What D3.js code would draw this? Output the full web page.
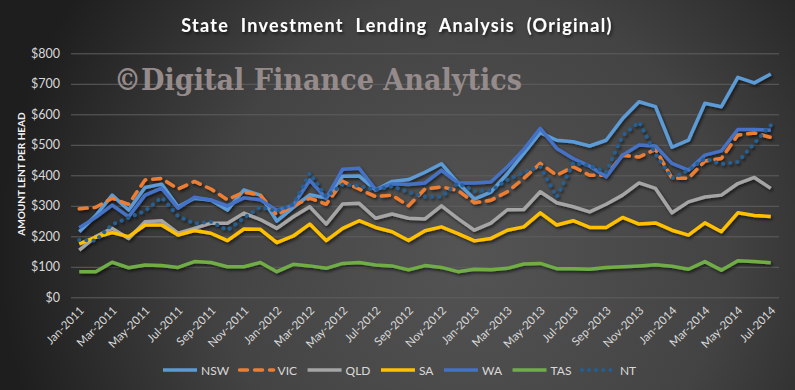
<!DOCTYPE html>
<html>
<head>
<meta charset="utf-8">
<script src="https://cdn.jsdelivr.net/npm/d3@7"></script>
<style>
  body { margin: 0; background: #2b2b2b; }
  svg { display: block; }
  text { font-family: Lato, 'Open Sans', sans-serif; }
</style>
</head>
<body>
<svg id="chart" width="795" height="390"></svg>
<script>
const months = ['Jan-2011','Feb-2011','Mar-2011','Apr-2011','May-2011','Jun-2011','Jul-2011','Aug-2011','Sep-2011','Oct-2011','Nov-2011','Dec-2011',
  'Jan-2012','Feb-2012','Mar-2012','Apr-2012','May-2012','Jun-2012','Jul-2012','Aug-2012','Sep-2012','Oct-2012','Nov-2012','Dec-2012',
  'Jan-2013','Feb-2013','Mar-2013','Apr-2013','May-2013','Jun-2013','Jul-2013','Aug-2013','Sep-2013','Oct-2013','Nov-2013','Dec-2013',
  'Jan-2014','Feb-2014','Mar-2014','Apr-2014','May-2014','Jun-2014','Jul-2014'];
const yTicks = [0, 100, 200, 300, 400, 500, 600, 700, 800];

const nsw = [215, 268, 335, 286, 360, 371, 297, 325, 319, 286, 352, 335, 250, 295, 336, 326, 397, 398, 352, 380, 386, 410,
  438, 375, 322, 345, 405, 472, 540, 515, 510, 496, 515, 586, 641, 625, 492, 515, 636, 625, 721, 703, 732];
const vic = [290, 295, 325, 305, 385, 390, 355, 380, 355, 320, 345, 335, 270, 300, 325, 305, 380, 355, 330, 335, 300, 355,
  362, 350, 310, 318, 346, 390, 439, 400, 428, 400, 400, 466, 460, 485, 390, 390, 447, 455, 532, 539, 524];
const qld = [155, 199, 226, 193, 248, 251, 210, 226, 243, 243, 276, 255, 226, 264, 297, 240, 306, 308, 259, 273, 259, 257,
  300, 258, 220, 243, 287, 288, 346, 310, 297, 280, 305, 335, 375, 357, 277, 313, 329, 335, 373, 393, 357];
const sa = [175, 197, 212, 199, 237, 237, 204, 219, 210, 186, 224, 223, 179, 201, 240, 186, 226, 251, 229, 215, 186, 218,
  231, 209, 185, 193, 220, 231, 277, 237, 251, 229, 229, 262, 240, 244, 220, 204, 244, 215, 277, 268, 265];
const wa = [228, 262, 302, 264, 335, 358, 292, 328, 319, 300, 326, 320, 285, 302, 384, 324, 420, 423, 353, 372, 370, 375,
  416, 375, 375, 378, 428, 485, 554, 488, 455, 430, 395, 466, 499, 496, 439, 417, 466, 480, 550, 550, 548];
const tas = [84, 84, 115, 97, 106, 104, 98, 117, 114, 100, 100, 114, 84, 108, 103, 95, 111, 114, 106, 103, 90, 104,
  98, 84, 92, 90, 95, 109, 111, 94, 94, 92, 98, 100, 103, 107, 102, 92, 117, 89, 120, 117, 113];
const nt = [188, 186, 239, 261, 283, 328, 266, 242, 248, 220, 260, 296, 282, 306, 407, 330, 370, 365, 352, 364, 345, 330,
  330, 374, 348, 350, 385, 411, 428, 329, 440, 432, 410, 530, 575, 470, 390, 417, 455, 437, 444, 505, 564];

const series = [
  {name: 'NSW', values: nsw, color: '#5B9BD5', dash: null},
  {name: 'VIC', values: vic, color: '#ED7D31', dash: '8,7'},
  {name: 'QLD', values: qld, color: '#A5A5A5', dash: null},
  {name: 'SA', values: sa, color: '#FFC000', dash: null},
  {name: 'WA', values: wa, color: '#4472C4', dash: null},
  {name: 'TAS', values: tas, color: '#70AD47', dash: null},
  {name: 'NT', values: nt, color: '#255E91', dash: '0.1,7'},
];

const width = 795;
const height = 390;
const svg = d3.select('#chart');
const defs = svg.append('defs');

const grad = defs.append('radialGradient')
    .attr('id', 'bg')
    .attr('gradientUnits', 'userSpaceOnUse')
    .attr('cx', 470).attr('cy', 250).attr('r', 470);
grad.append('stop').attr('offset', '0').attr('stop-color', '#545454');
grad.append('stop').attr('offset', '0.55').attr('stop-color', '#434343');
grad.append('stop').attr('offset', '1').attr('stop-color', '#1e1e1e');

const shadow = defs.append('filter').attr('id', 'shadow')
    .attr('x', '-5%').attr('y', '-5%').attr('width', '110%').attr('height', '120%');
shadow.append('feDropShadow')
    .attr('dx', 1.5).attr('dy', 2).attr('stdDeviation', 1.5)
    .attr('flood-color', '#000').attr('flood-opacity', 0.6);

svg.append('rect')
    .attr('width', width).attr('height', height)
    .attr('fill', 'url(#bg)');

const x = d3.scalePoint()
    .domain(months)
    .range([71, 779])
    .padding(0.5);

const y = d3.scaleLinear()
    .domain([0, 800])
    .range([297.3, 53.3]);

// gridlines + y labels
const yAxis = d3.axisLeft(y)
    .tickValues(yTicks)
    .tickSize(-(779 - 71))
    .tickPadding(11)
    .tickFormat((d) => '$' + d);

svg.append('g')
    .attr('transform', 'translate(71,0)')
    .call(yAxis)
    .call((g) => g.select('.domain').remove())
    .call((g) => g.selectAll('line').attr('stroke', '#5e5e5e').attr('stroke-width', 1))
    .call((g) => g.selectAll('text')
        .attr('fill', '#d9d9d9')
        .style('font-size', '12.5px'));

// x axis labels, every second month
const xAxis = d3.axisBottom(x)
    .tickValues(months.filter((d, i) => i % 2 === 0))
    .tickSize(0)
    .tickPadding(0);

svg.append('g')
    .attr('transform', 'translate(0,297.3)')
    .call(xAxis)
    .call((g) => g.select('.domain').remove())
    .call((g) => g.selectAll('text')
        .attr('fill', '#d9d9d9')
        .style('font-size', '11.5px')
        .attr('text-anchor', 'end')
        .attr('dy', 0)
        .attr('transform', 'translate(5,14) rotate(-45)'));

// watermark
svg.append('text')
    .attr('x', 318)
    .attr('y', 90)
    .attr('text-anchor', 'middle')
    .attr('fill', '#958b8b')
    .attr('textLength', 408)
    .attr('lengthAdjust', 'spacingAndGlyphs')
    .style('font-family', "'DejaVu Serif', 'Liberation Serif', serif")
    .style('font-weight', 'bold')
    .style('font-size', '29px')
    .text('©Digital Finance Analytics');

// title
svg.append('text')
    .attr('x', 397)
    .attr('y', 32)
    .attr('text-anchor', 'middle')
    .attr('fill', '#ffffff')
    .style('font-weight', 'bold')
    .style('font-size', '18px')
    .style('letter-spacing', '1.3px')
    .style('word-spacing', '6px')
    .attr('filter', 'url(#shadow)')
    .text('State Investment Lending Analysis (Original)');

// y axis title
svg.append('text')
    .attr('transform', 'translate(25,174) rotate(-90)')
    .attr('text-anchor', 'middle')
    .attr('fill', '#f2f2f2')
    .style('font-weight', 'bold')
    .style('font-size', '10px')
    .text('AMOUNT LENT PER HEAD');

const line = d3.line()
    .x((d, i) => x(months[i]))
    .y((d) => y(d));

svg.append('g')
    .attr('filter', 'url(#shadow)')
    .selectAll('path')
    .data(series)
    .enter()
    .append('path')
    .attr('d', (d) => line(d.values))
    .attr('fill', 'none')
    .attr('stroke', (d) => d.color)
    .attr('stroke-width', (d) => d.name === 'NT' ? 4 : 3.5)
    .attr('stroke-linejoin', 'round')
    .attr('stroke-linecap', (d) => d.dash ? 'round' : 'butt')
    .attr('stroke-dasharray', (d) => d.dash);

// legend
const legend = svg.append('g').attr('transform', 'translate(0,370)');
let lx = 162;
series.forEach((s) => {
  legend.append('line')
      .attr('x1', lx + 1).attr('x2', lx + 35)
      .attr('y1', 0).attr('y2', 0)
      .attr('stroke', s.color)
      .attr('stroke-width', s.name === 'NT' ? 4 : 3.5)
      .attr('stroke-linecap', s.dash ? 'round' : 'butt')
      .attr('stroke-dasharray', s.dash);
  const t = legend.append('text')
      .attr('x', lx + 39)
      .attr('y', 4.5)
      .attr('fill', '#d9d9d9')
      .style('font-size', '12px')
      .text(s.name);
  lx += 39 + t.node().getComputedTextLength() + 9.5;
});
</script>
</body>
</html>
